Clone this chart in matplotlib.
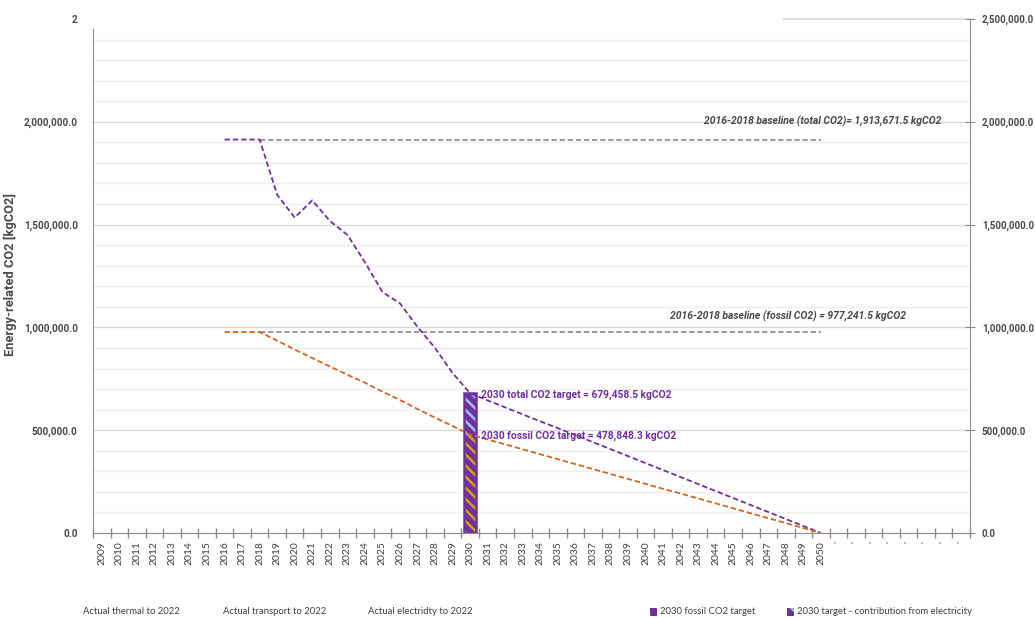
import matplotlib
matplotlib.use("Agg")
import matplotlib.pyplot as plt
from matplotlib.patches import Rectangle
import numpy as np

plt.rcParams['font.family'] = ['Lato', 'DejaVu Sans']
plt.rcParams['hatch.linewidth'] = 1.8
BOLDFAM = ['Roboto', 'DejaVu Sans']

# ---------------- data ----------------
years = [str(y) for y in range(2009, 2051)] + ["'"] * 8

total_co2 = [None] * 7 + [
    1913671.5, 1913671.5, 1913671.5,            # 2016-2018
    1645000, 1534000, 1618000, 1518000, 1450000, 1318000,
    1172000, 1117000, 1003000, 900000, 778000,  # 2019-2029
    679458.5,                                    # 2030
    645000, 611000, 577000, 543000, 510000, 476000, 442000, 408000,
    374000, 340000, 306000, 272000, 238000, 204000, 170000, 136000,
    102000, 68000, 34000, 0]                     # 2031-2050

fossil_co2 = [None] * 7 + [
    977241.5, 977241.5, 977241.5,
    936000, 892000, 851000, 810000, 770000, 731000,
    688000, 647000, 603000, 561000, 520000,
    478848.3,
    455000, 431000, 407000, 383000, 359000, 335000, 311000, 287000,
    263000, 239000, 215000, 192000, 168000, 144000, 120000, 96000,
    72000, 48000, 24000, 0]

baseline_total = 1913671.5
baseline_fossil = 977241.5
baseline_years = ("2018", "2050")

target_year = "2030"
target_fossil = 478848.3
target_total = 679458.5
target_elec = target_total - target_fossil

legend_labels = ["Actual thermal to 2022", "Actual transport to 2022",
                 "Actual electridty to 2022", "2030 fossil CO2 target",
                 "2030 target - contribution from electricity"]

yticks = [0, 500000, 1000000, 1500000, 2000000, 2500000]

# ---------------- style ----------------
PURPLE = "#7030A0"
ORANGE = "#D5641C"
GOLD = "#D4A017"
LBLUE = "#9DC3E6"
GREY = "#7F7F7F"
TXT = "#4A4A4A"

fig = plt.figure(figsize=(10.35, 6.18), dpi=100)
ax = fig.add_axes([93/1035, 1-533/618, (970-93)/1035, (533-19)/618])

n = len(years)
xs = np.arange(n)
ax.set_xlim(-0.5, n - 0.5)
ax.set_ylim(0, 2500000)

# gridlines
for v in range(100000, 2500000, 100000):
    col = "#D9D9D9" if v % 500000 == 0 else "#EFEFEF"
    ax.axhline(v, color=col, lw=1.0, zorder=0)
ax.axhline(2500000, xmin=(783-93)/877, xmax=1, color="#D9D9D9", lw=1.2, zorder=0, clip_on=False)

def series_xy(vals):
    px = [i for i, v in enumerate(vals) if v is not None]
    py = [vals[i] for i in px]
    return px, py

i18 = years.index(baseline_years[0])
i50 = years.index(baseline_years[1])
i30 = years.index(target_year)

# baselines
ax.plot([i18, i50], [baseline_total, baseline_total], color=GREY, lw=1.1, dashes=(3.5, 1.8), zorder=2)
ax.plot([i18, i50], [baseline_fossil, baseline_fossil], color=GREY, lw=1.1, dashes=(3.5, 1.8), zorder=2)

# target bar (stacked)
bw = 0.68
ax.bar(i30, target_fossil, width=bw, color=PURPLE, edgecolor=GOLD, hatch="\\\\\\", lw=0, zorder=3)
ax.bar(i30, target_elec, bottom=target_fossil, width=bw, color=PURPLE, edgecolor=LBLUE, hatch="\\\\\\", lw=0, zorder=3)
ax.bar(i30, target_total, width=bw, facecolor="none", edgecolor=PURPLE, lw=1.8, zorder=3)

# lines
px, py = series_xy(total_co2)
ax.plot(px, py, color=PURPLE, lw=1.3, dashes=(3, 1.6), zorder=4)
px, py = series_xy(fossil_co2)
ax.plot(px, py, color=ORANGE, lw=1.3, dashes=(3, 1.6), zorder=4)

# annotations
ax.annotate("2030 total CO2 target = 679,458.5 kgCO2", (i30, target_total),
            xytext=(8, -1), textcoords="offset points", va="center", ha="left",
            color=PURPLE, fontsize=7.4, fontweight="bold", family=BOLDFAM, zorder=5)
ax.annotate("2030 fossil CO2 target = 478,848.3 kgCO2", (i30, target_fossil),
            xytext=(8, -1), textcoords="offset points", va="center", ha="left",
            color=PURPLE, fontsize=7.4, fontweight="bold", family=BOLDFAM, zorder=5)
ax.annotate("2016-2018 baseline (total CO2)= 1,913,671.5 kgCO2", (i50, baseline_total),
            xytext=(87, 9), textcoords="offset points", va="bottom", ha="right",
            color=TXT, fontsize=7.5, fontweight="bold", style="italic", family=BOLDFAM)
ax.annotate("2016-2018 baseline (fossil CO2) = 977,241.5 kgCO2", (i50, baseline_fossil),
            xytext=(61, 7), textcoords="offset points", va="bottom", ha="right",
            color=TXT, fontsize=7.5, fontweight="bold", style="italic", family=BOLDFAM)

# axes styling
for s in ["top", "right", "left", "bottom"]:
    ax.spines[s].set_visible(False)
ax.spines["left"].set_visible(True)
ax.spines["left"].set_color("#8C8C8C")
ax.spines["left"].set_bounds(0, 2450000)
ax.spines["bottom"].set_visible(True)
ax.spines["bottom"].set_color("#8C8C8C")

ax.set_xticks(xs)
ax.set_xticklabels(years, rotation=90, fontsize=7.5, color="#404040")
ax.set_xticks(np.arange(-0.5, n, 1), minor=True)
ax.tick_params(axis="x", which="major", length=0, pad=6)
ax.tick_params(axis="x", which="minor", length=7, direction="inout", color="#8C8C8C", width=1)

ax.set_yticks(yticks)
left_labels = [f"{v:,.1f}" for v in yticks]
left_labels[-1] = "2"
ax.set_yticklabels(left_labels, fontsize=7.2, fontweight="bold", color=TXT, family=BOLDFAM)
ax.tick_params(axis="y", length=0, pad=11)
ax.set_ylabel("Energy-related CO2 [kgCO2]", fontsize=9.3, fontweight="bold", color=TXT, family=BOLDFAM)
ax.yaxis.set_label_coords((17 - 93) / 877, (533 - 275) / 514)

ax2 = ax.twinx()
ax2.set_ylim(0, 2500000)
for s in ["top", "left", "bottom"]:
    ax2.spines[s].set_visible(False)
ax2.spines["right"].set_color("#8C8C8C")
ax2.set_yticks(yticks)
ax2.set_yticklabels([f"{v:,.1f}" for v in yticks], fontsize=7.0, fontweight="bold", color=TXT, family=BOLDFAM)
ax2.tick_params(axis="y", length=7, direction="inout", color="#8C8C8C", pad=5)

# legend (bottom)
leg_x = [83, 223, 368, 660, 797]
for k, (lab, lx) in enumerate(zip(legend_labels, leg_x)):
    fig.text(lx / 1035, 1 - 612 / 618, lab, fontsize=6.8, color="#404040", va="center", ha="left")
    if k >= 3:
        hc = GOLD if k == 3 else LBLUE
        r = Rectangle(((lx - 10) / 1035, 1 - 616 / 618), 7 / 1035, 8 / 618,
                      transform=fig.transFigure, facecolor=PURPLE, edgecolor=hc,
                      hatch="\\\\", lw=0)
        fig.add_artist(r)

fig.savefig("out.png", dpi=100)
